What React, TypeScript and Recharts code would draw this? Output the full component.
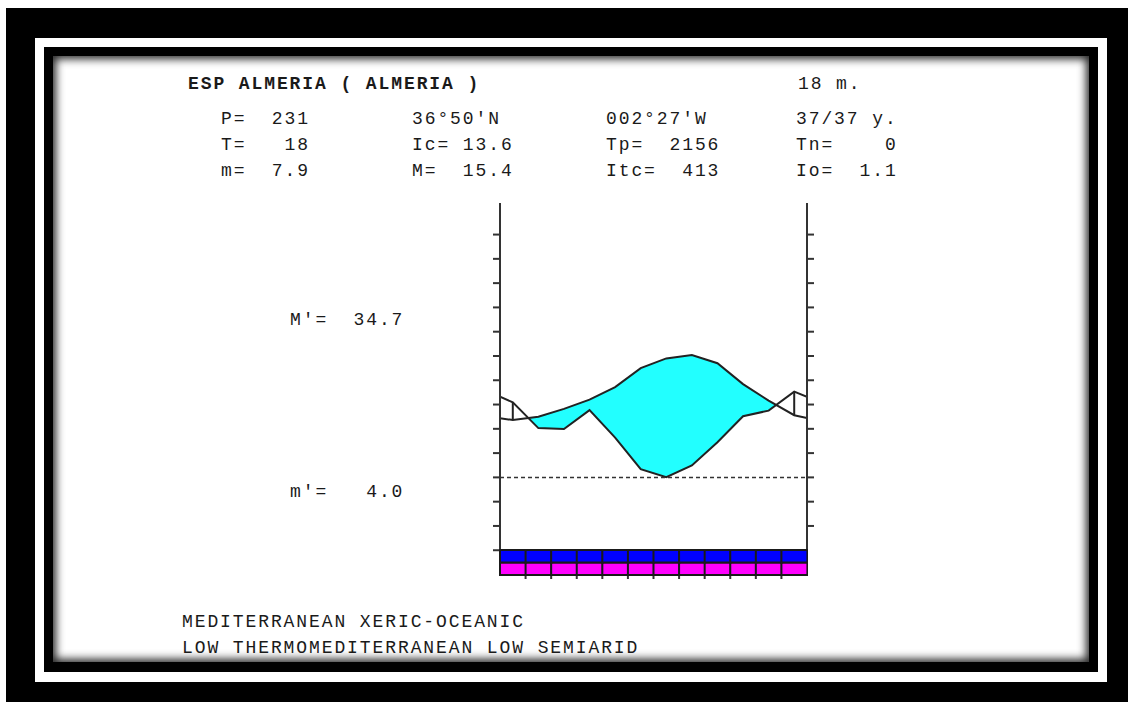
import React from 'react';
import { ComposedChart, Area, Line, XAxis, YAxis, ReferenceLine, BarChart, Bar } from 'recharts';

// ---- data ----
const MONTHS = ['Jan', 'Feb', 'Mar', 'Apr', 'May', 'Jun', 'Jul', 'Aug', 'Sep', 'Oct', 'Nov', 'Dec'];
const TEMP = [11.8, 12.5, 14.1, 16.0, 18.6, 22.5, 24.5, 25.2, 23.5, 19.2, 15.8, 12.8]; // °C
const PREC = [30.9, 20.3, 19.9, 27.7, 16.4, 3.4, 0.1, 4.9, 14.5, 25.2, 27.5, 35.3]; // mm
const TEMP_EDGE = 12.2; // value drawn at the diagram's side borders
const PREC_EDGE = 33.2;
const BAND_TOP = [1, 1, 1, 1, 1, 1, 1, 1, 1, 1, 1, 1];
const BAND_BOTTOM = [1, 1, 1, 1, 1, 1, 1, 1, 1, 1, 1, 1];
const Y_TICKS_LEFT = [-15, -10, -5, 0, 5, 10, 15, 20, 25, 30, 35, 40, 45, 50];
const Y_TICKS_RIGHT = [-10, -5, 0, 5, 10, 15, 20, 25, 30, 35, 40, 45, 50];
const X_TICKS = [1, 2, 3, 4, 5, 6, 7, 8, 9, 10, 11];
const Y_DOMAIN: [number, number] = [-20.1, 56.5];

const HEADER_ROWS = [
  ['P=  231', '36°50\'N', '002°27\'W', '37/37 y.'],
  ['T=   18', 'Ic= 13.6', 'Tp=  2156', 'Tn=    0'],
  ['m=  7.9', 'M=  15.4', 'Itc=  413', 'Io=  1.1'],
];
const TITLE = 'ESP ALMERIA ( ALMERIA )';
const ALTITUDE = '18 m.';
const M_PRIME = "M'=  34.7";
const m_PRIME = "m'=   4.0";
const FOOTER = ['MEDITERRANEAN XERIC-OCEANIC', 'LOW THERMOMEDITERRANEAN LOW SEMIARID'];

// P is drawn on a scale of 2 mm per °C
const chartData = [
  { x: 0, t: TEMP_EDGE, p: PREC_EDGE / 2 },
  ...MONTHS.map((m, i) => ({ x: i + 0.5, t: TEMP[i], p: PREC[i] / 2 })),
  { x: 12, t: TEMP_EDGE, p: PREC_EDGE / 2 },
];
const bandData = MONTHS.map((m, i) => ({ m, top: BAND_TOP[i], bottom: BAND_BOTTOM[i] }));

const NoTick = () => <g />;
const AX = '#333';
const FONT = '"Liberation Mono", "DejaVu Sans Mono", monospace';

const textStyle: React.CSSProperties = { whiteSpace: 'pre' };

export default function App() {
  const cols = [221, 412, 606, 796];
  const rowsY = [124, 150, 176];
  return (
    <div style={{ position: 'absolute', left: 0, top: 0, width: 1128, height: 702, background: '#fff', overflow: 'hidden' }}>
      {/* frame */}
      <div style={{ position: 'absolute', left: 6, top: 8, width: 1122, height: 694, background: '#000' }} />
      <div style={{ position: 'absolute', left: 35, top: 38, width: 1072, height: 644, background: '#fff' }} />
      <div style={{ position: 'absolute', left: 44, top: 47, width: 1054, height: 625, background: '#000' }} />
      <div
        style={{
          position: 'absolute', left: 53, top: 56, width: 1036, height: 606, background: '#fff',
          boxShadow: 'inset 0 0 9px 3px rgba(0,0,0,0.85)',
        }}
      />
      {/* climate diagram */}
      <div style={{ position: 'absolute', left: 0, top: 0 }}>
        <ComposedChart width={1128} height={702} data={chartData} margin={{ top: 203, left: 490, right: 311, bottom: 117 }}>
          <XAxis
            type="number" dataKey="x" domain={[0, 12]} ticks={X_TICKS} interval={0}
            axisLine={false} tickLine={{ stroke: AX, strokeWidth: 2 }} tickSize={4} tick={NoTick} height={10}
            allowDataOverflow
          />
          <YAxis
            yAxisId="l" domain={Y_DOMAIN} ticks={Y_TICKS_LEFT} interval={0} width={10} allowDataOverflow
            axisLine={{ stroke: AX, strokeWidth: 2 }} tickLine={{ stroke: AX, strokeWidth: 2 }} tickSize={7} tick={NoTick}
          />
          <YAxis
            yAxisId="r" orientation="right" domain={Y_DOMAIN} ticks={Y_TICKS_RIGHT} interval={0} width={10} allowDataOverflow
            axisLine={{ stroke: AX, strokeWidth: 2 }} tickLine={{ stroke: AX, strokeWidth: 2 }} tickSize={7} tick={NoTick}
          />
          <Area yAxisId="l" dataKey="t" type="linear" fill="#22ffff" fillOpacity={1} stroke="none" baseValue={Y_DOMAIN[0]} isAnimationActive={false} />
          <Area yAxisId="l" dataKey="p" type="linear" fill="#ffffff" fillOpacity={1} stroke="none" baseValue={Y_DOMAIN[0]} isAnimationActive={false} />
          {chartData
            .filter((d) => d.p > d.t && d.x > 0 && d.x < 12)
            .map((d) => (
              <ReferenceLine
                key={d.x} yAxisId="l" stroke="#222" strokeWidth={2}
                segment={[{ x: d.x, y: d.t }, { x: d.x, y: d.p }]}
              />
            ))}
          <Line yAxisId="l" dataKey="t" type="linear" stroke="#222" strokeWidth={2} dot={false} isAnimationActive={false} />
          <Line yAxisId="l" dataKey="p" type="linear" stroke="#222" strokeWidth={2} dot={false} isAnimationActive={false} />
          <ReferenceLine yAxisId="l" y={0} stroke="#333" strokeWidth={1.5} strokeDasharray="4 3" />
        </ComposedChart>
      </div>
      {/* monthly bands */}
      <div style={{ position: 'absolute', left: 499, top: 549 }}>
        <BarChart width={309} height={27} data={bandData} margin={{ top: 1, right: 1, left: 1, bottom: 1 }} barCategoryGap={0} barGap={0}>
          <XAxis dataKey="m" hide />
          <YAxis hide domain={[0, 2]} />
          <Bar dataKey="bottom" stackId="s" fill="#ff00ff" stroke="#1a1a1a" strokeWidth={2} isAnimationActive={false} />
          <Bar dataKey="top" stackId="s" fill="#0000ff" stroke="#1a1a1a" strokeWidth={2} isAnimationActive={false} />
        </BarChart>
      </div>
      {/* texts */}
      <svg width={1128} height={702} style={{ position: 'absolute', left: 0, top: 0, pointerEvents: 'none' }}>
        <g fontFamily={FONT} fontSize={18} letterSpacing={1.9} fill="#1a1a1a">
          <text x={188} y={89} fontWeight="bold" style={textStyle}>{TITLE}</text>
          <text x={798} y={89} style={textStyle}>{ALTITUDE}</text>
          {HEADER_ROWS.map((row, r) =>
            row.map((s, c) => (
              <text key={r + '-' + c} x={cols[c]} y={rowsY[r]} style={textStyle}>{s}</text>
            ))
          )}
          <text x={290} y={325} style={textStyle}>{M_PRIME}</text>
          <text x={290} y={497} style={textStyle}>{m_PRIME}</text>
          <text x={182} y={627} style={textStyle}>{FOOTER[0]}</text>
          <text x={182} y={653} style={textStyle}>{FOOTER[1]}</text>
        </g>
      </svg>
    </div>
  );
}
